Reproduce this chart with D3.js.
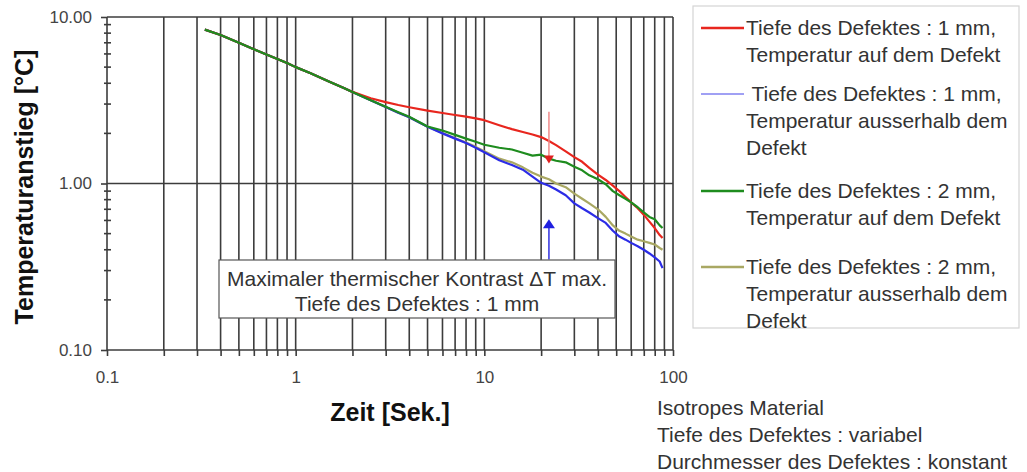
<!DOCTYPE html>
<html lang="de">
<head>
    <meta charset="UTF-8">
    <title>Temperaturanstieg</title>
    <script src="https://d3js.org/d3.v7.min.js"></script>
    <style>
        body { margin: 0; background: #fff; }
        svg { display: block; font-family: "Liberation Sans", Arial, sans-serif; }
    </style>
</head>
<body>
    <div id="container"></div>

    <script>
        // Zeit [Sek.]
        const zeit = [0.33, 0.4, 0.5, 0.6, 0.7, 0.8, 0.9, 1, 1.2, 1.5, 1.8, 2, 2.5, 3, 3.5, 4, 5, 6, 7, 8, 9, 10,
            12, 14, 16, 18, 20, 22, 24, 27, 30, 33, 36, 40, 44, 48, 52, 56, 60, 65, 70, 75, 80, 85, 88];

        // Temperaturanstieg [°C]
        const tiefe1Auf = [8.4, 7.8, 7.0, 6.4, 5.95, 5.6, 5.3, 5.0, 4.6, 4.1, 3.75, 3.55,
            3.25, 3.08, 2.96, 2.87, 2.74, 2.65, 2.58, 2.52, 2.46, 2.40, 2.24, 2.12, 2.04, 1.97, 1.90, 1.80, 1.70,
            1.56, 1.44, 1.35, 1.24, 1.13, 1.05, 0.97, 0.90, 0.83, 0.77, 0.71, 0.65, 0.59, 0.54, 0.49, 0.47];
        const tiefe1Ausser = [8.4, 7.8, 7.0, 6.4, 5.95, 5.6, 5.3, 5.0, 4.6, 4.1, 3.75, 3.55,
            3.16, 2.88, 2.66, 2.50, 2.19, 2.00, 1.86, 1.75, 1.64, 1.54, 1.38, 1.29, 1.21, 1.10, 1.01, 0.97, 0.92,
            0.85, 0.76, 0.71, 0.67, 0.62, 0.58, 0.52, 0.48, 0.46, 0.44, 0.42, 0.40, 0.38, 0.36, 0.34, 0.31];
        const tiefe2Auf = [8.4, 7.8, 7.0, 6.4, 5.95, 5.6, 5.3, 5.0, 4.6, 4.1, 3.75, 3.55,
            3.16, 2.89, 2.68, 2.52, 2.20, 2.08, 1.96, 1.86, 1.78, 1.71, 1.64, 1.60, 1.53, 1.47, 1.49, 1.41, 1.37,
            1.34, 1.26, 1.20, 1.12, 1.06, 0.99, 0.90, 0.85, 0.81, 0.77, 0.72, 0.67, 0.63, 0.61, 0.56, 0.54];
        const tiefe2Ausser = [8.4, 7.8, 7.0, 6.4, 5.95, 5.6, 5.3, 5.0, 4.6, 4.1, 3.75, 3.55,
            3.16, 2.88, 2.66, 2.50, 2.19, 2.01, 1.87, 1.76, 1.66, 1.56, 1.41, 1.34, 1.25, 1.16, 1.10, 1.06, 1.00,
            0.95, 0.87, 0.81, 0.76, 0.70, 0.63, 0.56, 0.52, 0.50, 0.48, 0.46, 0.45, 0.44, 0.43, 0.41, 0.40];

        const legendTexts = [
            ["Tiefe des Defektes : 1 mm,", "Temperatur auf dem Defekt"],
            [" Tiefe des Defektes : 1 mm,", "Temperatur ausserhalb dem", "Defekt"],
            ["Tiefe des Defektes : 2 mm,", "Temperatur auf dem Defekt"],
            ["Tiefe des Defektes : 2 mm,", "Temperatur ausserhalb dem", "Defekt"]
        ];
        const seriesColors = ["#e8261e", "#2c2ce6", "#1e8c1e", "#a9a863"];
        const yTickLabels = ["0.10", "1.00", "10.00"];
        const xTickLabels = ["0.1", "1", "10", "100"];
        const notizen = ["Isotropes Material", "Tiefe des Defektes : variabel", "Durchmesser des Defektes : konstant"];
        const kastenText = ["Maximaler thermischer Kontrast \u0394T max.", "Tiefe des Defektes : 1 mm"];
        // arrows: time, start value, tip value
        const pfeilRot = [22, 2.7, 1.32];
        const pfeilBlau = [22, 0.35, 0.61];

        const width = 1027, height = 472;
        const plotLeft = 107, plotRight = 673, plotTop = 17, plotBottom = 350;
        const gridColor = "#3c3c3c";

        const svg = d3.select("#container").append("svg")
            .attr("width", width)
            .attr("height", height);

        const x = d3.scaleLog().domain([0.1, 100]).range([plotLeft, plotRight]);
        const y = d3.scaleLog().domain([0.1, 10]).range([plotBottom, plotTop]);

        // vertical grid at 0.1..100
        svg.append("g").selectAll("line")
            .data(x.ticks())
            .join("line")
            .attr("x1", d => x(d)).attr("x2", d => x(d))
            .attr("y1", plotTop).attr("y2", plotBottom)
            .attr("stroke", gridColor)
            .attr("stroke-width", 1.6);

        // horizontal grid, decades only
        svg.append("g").selectAll("line")
            .data([0.1, 1, 10])
            .join("line")
            .attr("x1", plotLeft).attr("x2", plotRight)
            .attr("y1", d => y(d)).attr("y2", d => y(d))
            .attr("stroke", gridColor)
            .attr("stroke-width", 1.6);

        // x axis
        const xAxis = svg.append("g")
            .attr("transform", `translate(0,${plotBottom})`)
            .call(d3.axisBottom(x)
                .tickValues(x.ticks())
                .tickSize(6)
                .tickPadding(15)
                .tickFormat(d => {
                    const i = [0.1, 1, 10, 100].findIndex(v => Math.abs(v - d) < 1e-9);
                    return i >= 0 ? xTickLabels[i] : "";
                }));
        xAxis.select(".domain").remove();
        xAxis.selectAll("line").attr("stroke", gridColor).attr("stroke-width", 1.6);
        xAxis.selectAll("text").attr("font-size", 17).attr("fill", "#444")
            .attr("font-family", "Liberation Sans, Arial, sans-serif");

        // y axis, major ticks with labels
        const yAxis = svg.append("g")
            .attr("transform", `translate(${plotLeft},0)`)
            .call(d3.axisLeft(y)
                .tickValues([0.1, 1, 10])
                .tickSize(6)
                .tickPadding(9)
                .tickFormat((d, i) => yTickLabels[i]));
        yAxis.select(".domain").remove();
        yAxis.selectAll("line").attr("stroke", gridColor).attr("stroke-width", 1.6);
        yAxis.selectAll("text").attr("font-size", 17).attr("fill", "#444")
            .attr("font-family", "Liberation Sans, Arial, sans-serif");

        // y minor ticks crossing the axis
        svg.append("g").selectAll("line")
            .data(y.ticks().filter(d => ![0.1, 1, 10].some(v => Math.abs(v - d) < 1e-9)))
            .join("line")
            .attr("x1", plotLeft - 3).attr("x2", plotLeft + 4)
            .attr("y1", d => y(d)).attr("y2", d => y(d))
            .attr("stroke", gridColor)
            .attr("stroke-width", 1.6);

        // curves
        const series = [tiefe2Ausser, tiefe1Ausser, tiefe1Auf, tiefe2Auf];
        const seriesColorIdx = [3, 1, 0, 2];
        const line = d3.line()
            .x((d, i) => x(zeit[i]))
            .y(d => y(d));
        series.forEach((s, k) => {
            svg.append("path")
                .datum(s)
                .attr("d", line)
                .attr("fill", "none")
                .attr("stroke", seriesColors[seriesColorIdx[k]])
                .attr("stroke-width", 2.2)
                .attr("stroke-linejoin", "round");
        });

        // arrows
        const ax = x(pfeilRot[0]);
        svg.append("line")
            .attr("x1", ax).attr("x2", ax)
            .attr("y1", y(pfeilRot[1])).attr("y2", y(pfeilRot[2]) - 7)
            .attr("stroke", "#f08a8a").attr("stroke-width", 1.5);
        svg.append("path")
            .attr("d", `M${ax - 5},${y(pfeilRot[2]) - 8} L${ax + 5},${y(pfeilRot[2]) - 8} L${ax},${y(pfeilRot[2])} Z`)
            .attr("fill", "#e02020");

        const bx = x(pfeilBlau[0]);
        svg.append("line")
            .attr("x1", bx).attr("x2", bx)
            .attr("y1", y(pfeilBlau[1])).attr("y2", y(pfeilBlau[2]) + 7)
            .attr("stroke", "#3030e0").attr("stroke-width", 1.5);
        svg.append("path")
            .attr("d", `M${bx - 6},${y(pfeilBlau[2]) + 9} L${bx + 6},${y(pfeilBlau[2]) + 9} L${bx},${y(pfeilBlau[2])} Z`)
            .attr("fill", "#2020e0");

        // annotation box
        svg.append("rect")
            .attr("x", 219).attr("y", 260)
            .attr("width", 396).attr("height", 58)
            .attr("fill", "#fff")
            .attr("stroke", "#555").attr("stroke-width", 1.2);
        svg.append("g").selectAll("text")
            .data(kastenText)
            .join("text")
            .attr("x", 417)
            .attr("y", (d, i) => 286 + i * 25)
            .attr("text-anchor", "middle")
            .attr("font-size", 21)
            .attr("fill", "#333")
            .text(d => d);

        // axis titles
        svg.append("text")
            .attr("transform", "translate(33,187) rotate(-90)")
            .attr("text-anchor", "middle")
            .attr("font-size", 25)
            .attr("font-weight", "bold")
            .attr("fill", "#111")
            .text("Temperaturanstieg [°C]");
        svg.append("text")
            .attr("x", 390).attr("y", 421)
            .attr("text-anchor", "middle")
            .attr("font-size", 25)
            .attr("font-weight", "bold")
            .attr("fill", "#111")
            .text("Zeit [Sek.]");

        // legend
        svg.append("rect")
            .attr("x", 693).attr("y", 6)
            .attr("width", 326).attr("height", 322)
            .attr("fill", "#fff")
            .attr("stroke", "#d4d4d4").attr("stroke-width", 1.2);
        const legendBase = [35, 101, 198, 274];
        const legend = svg.append("g");
        legendTexts.forEach((lines, i) => {
            legend.append("line")
                .attr("x1", 701).attr("x2", 744)
                .attr("y1", legendBase[i] - 7).attr("y2", legendBase[i] - 7)
                .attr("stroke", seriesColors[i])
                .attr("stroke-opacity", i === 1 ? 0.6 : 1)
                .attr("stroke-width", i === 1 ? 1.6 : 2.4);
            lines.forEach((t, j) => {
                legend.append("text")
                    .attr("x", 746)
                    .attr("y", legendBase[i] + j * 27)
                    .attr("font-size", 21)
                    .attr("fill", "#333")
                    .style("white-space", "pre")
                    .text(t);
            });
        });

        // notes below legend
        svg.append("g").selectAll("text")
            .data(notizen)
            .join("text")
            .attr("x", 657)
            .attr("y", (d, i) => 415 + i * 27)
            .attr("font-size", 21)
            .attr("fill", "#333")
            .text(d => d);
    </script>
</body>
</html>
